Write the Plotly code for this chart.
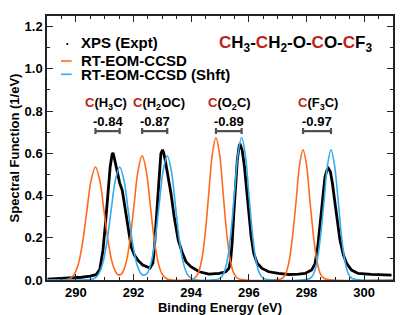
import plotly.graph_objects as go

# ---------------- data ----------------
xps_x = [289.02, 289.3, 289.6, 289.9, 290.2, 290.5, 290.7, 290.83, 290.94, 291.03, 291.11, 291.19,
         291.26, 291.29, 291.33, 291.38, 291.46, 291.52, 291.61, 291.69, 291.77, 291.84, 291.92,
         292.03, 292.15, 292.32, 292.49, 292.57, 292.67, 292.72, 292.78, 292.84, 292.90, 292.95,
         293.01, 293.05, 293.10, 293.18, 293.30, 293.41, 293.55, 293.70, 293.82, 293.99, 294.28,
         294.62, 294.97, 295.20, 295.31, 295.37, 295.42, 295.48, 295.54, 295.60, 295.66, 295.69,
         295.73, 295.77, 295.85, 295.92, 296.00, 296.08, 296.17, 296.29, 296.46, 296.69, 297.03,
         297.38, 297.72, 297.95, 298.18, 298.30, 298.39, 298.47, 298.56, 298.64, 298.71, 298.76,
         298.83, 298.90, 298.99, 299.08, 299.16, 299.28, 299.39, 299.56, 299.79, 300.25, 300.83,
         300.95]
xps_y = [0.004, 0.006, 0.008, 0.010, 0.013, 0.018, 0.025, 0.050, 0.140, 0.270, 0.425, 0.535,
         0.595, 0.602, 0.580, 0.550, 0.490, 0.460, 0.425, 0.360, 0.283, 0.220, 0.157,
         0.118, 0.094, 0.071, 0.060, 0.057, 0.079, 0.142, 0.268, 0.378, 0.504, 0.598,
         0.617, 0.600, 0.567, 0.504, 0.410, 0.300, 0.190, 0.126, 0.087, 0.063, 0.039,
         0.028, 0.031, 0.039, 0.055, 0.094, 0.173, 0.315, 0.457, 0.567, 0.630, 0.645,
         0.630, 0.614, 0.535, 0.425, 0.315, 0.205, 0.126, 0.079, 0.055, 0.039, 0.031,
         0.026, 0.028, 0.031, 0.047, 0.079, 0.157, 0.268, 0.394, 0.488, 0.520, 0.528,
         0.512, 0.457, 0.362, 0.268, 0.189, 0.118, 0.079, 0.047, 0.031, 0.027, 0.024,
         0.023]

eom_x = [289.0, 289.6, 289.78, 289.93, 290.08, 290.23, 290.38, 290.53, 290.68, 290.83, 290.98,
         291.13, 291.28, 291.43, 291.49, 291.60, 291.74, 291.88, 292.02, 292.16, 292.30, 292.44,
         292.58, 292.72, 292.86, 293.00, 293.14, 293.30, 293.8, 294.11, 294.235, 294.36, 294.485,
         294.61, 294.735, 294.86, 294.985, 295.11, 295.235, 295.36, 295.485, 295.61, 295.9, 296.8,
         297.145, 297.27, 297.39, 297.51, 297.64, 297.76, 297.88, 298.00, 298.12, 298.25, 298.37,
         298.49, 298.62, 298.9, 301.0]
eom_y = [0.0, 0.001, 0.006, 0.024, 0.072, 0.174, 0.325, 0.472, 0.535, 0.472, 0.325,
         0.174, 0.073, 0.028, 0.023, 0.031, 0.081, 0.191, 0.357, 0.519, 0.588, 0.519,
         0.357, 0.191, 0.080, 0.026, 0.007, 0.001, 0.0, 0.008, 0.030, 0.091, 0.219,
         0.409, 0.596, 0.675, 0.596, 0.409, 0.219, 0.091, 0.030, 0.008, 0.0, 0.0,
         0.007, 0.027, 0.084, 0.200, 0.374, 0.545, 0.617, 0.545, 0.374, 0.200, 0.084,
         0.027, 0.007, 0.0, 0.0]

shft_x = [289.0, 290.5, 290.62, 290.77, 290.92, 291.07, 291.22, 291.37, 291.52, 291.67, 291.82,
          291.97, 292.12, 292.27, 292.33, 292.47, 292.61, 292.75, 292.89, 293.03, 293.17, 293.31,
          293.45, 293.59, 293.73, 293.87, 294.01, 294.17, 294.7, 295.0, 295.125, 295.25, 295.375,
          295.5, 295.625, 295.75, 295.875, 296.0, 296.125, 296.25, 296.375, 296.5, 296.8, 297.8,
          298.115, 298.24, 298.36, 298.48, 298.61, 298.73, 298.85, 298.97, 299.1, 299.22, 299.34,
          299.46, 299.585, 299.9, 301.0]
shft_y = [0.0, 0.002, 0.006, 0.024, 0.072, 0.174, 0.325, 0.472, 0.535, 0.472, 0.325,
          0.174, 0.073, 0.028, 0.023, 0.031, 0.081, 0.191, 0.357, 0.519, 0.588, 0.519,
          0.357, 0.191, 0.080, 0.026, 0.007, 0.001, 0.0, 0.008, 0.030, 0.091, 0.219,
          0.409, 0.596, 0.675, 0.596, 0.409, 0.219, 0.091, 0.030, 0.008, 0.0, 0.0,
          0.007, 0.027, 0.084, 0.200, 0.374, 0.545, 0.617, 0.545, 0.374, 0.200, 0.084,
          0.027, 0.007, 0.0, 0.0]

site_labels = ["C(H<sub>3</sub>C)", "C(H<sub>2</sub>OC)", "C(O<sub>2</sub>C)", "C(F<sub>3</sub>C)"]
eom_centers = [290.68, 292.30, 294.86, 297.88]
shifts = [0.84, 0.87, 0.89, 0.97]
shift_texts = ["-0.84", "-0.87", "-0.89", "-0.97"]
bar_level = [0.705, 0.705, 0.705, 0.705]
label_level = 0.838
shift_level = 0.752

x_ticks = [290, 292, 294, 296, 298, 300]
y_ticks = [0.0, 0.2, 0.4, 0.6, 0.8, 1.0, 1.2]

# ---------------- styles ----------------
FONT = "Liberation Sans, Arial, Helvetica, sans-serif"
ORANGE = "#FF6A1C"
BLUE = "#35ABF0"
RED = "#C0231A"
BAR = "#505050"
LABEL_XSHIFT = [-2, 4, 1, 1]

fig = go.Figure()

fig.add_trace(go.Scatter(x=xps_x, y=xps_y, mode="lines", line=dict(color="black", width=2.8),
                         name="XPS (Expt)", showlegend=False))
fig.add_trace(go.Scatter(x=eom_x, y=eom_y, mode="lines", line=dict(color=ORANGE, width=1.6, shape="spline"),
                         name="RT-EOM-CCSD", showlegend=False))
fig.add_trace(go.Scatter(x=shft_x, y=shft_y, mode="lines", line=dict(color=BLUE, width=1.6, shape="spline"),
                         name="RT-EOM-CCSD (Shft)", showlegend=False))

mids = [c + s / 2 for c, s in zip(eom_centers, shifts)]
halves = [s / 2 for s in shifts]
fig.add_trace(go.Scatter(x=mids, y=bar_level, mode="markers", marker=dict(size=1, opacity=0),
                         error_x=dict(type="data", array=halves, color=BAR, thickness=2.2, width=3),
                         showlegend=False, hoverinfo="skip"))

ann = []
for m, lab, st, xs in zip(mids, site_labels, shift_texts, LABEL_XSHIFT):
    ann.append(dict(x=m, y=label_level, xref="x", yref="y", showarrow=False, xshift=xs,
                    text=f'<span style="color:{RED}">C</span>' + lab[1:],
                    font=dict(family=FONT, size=13, color="black", weight="bold"),
                    xanchor="center", yanchor="middle"))
    ann.append(dict(x=m, y=shift_level, xref="x", yref="y", showarrow=False, text=st,
                    font=dict(family=FONT, size=13, color="black", weight="bold"),
                    xanchor="center", yanchor="middle"))

formula = (f'<span style="color:{RED}">C</span>H<sub>3</sub>-'
           f'<span style="color:{RED}">C</span>H<sub>2</sub>-O-'
           f'<span style="color:{RED}">C</span>O-'
           f'<span style="color:{RED}">C</span>F<sub>3</sub>')

# manual legend / placement helpers (pixel -> paper)
W, H, L, T = 346.0, 264.0, 47.0, 16.0
def px(xp):
    return (xp - L) / W
def py(yp):
    return (280.0 - yp) / H

ann.append(dict(x=px(217), y=py(44), xref="paper", yref="paper", showarrow=False, text=formula,
                font=dict(family=FONT, size=17, color="black", weight="bold"),
                xanchor="left", yanchor="middle"))

leg_items = [("XPS (Expt)", 42.8), ("RT-EOM-CCSD", 60.2), ("RT-EOM-CCSD (Shft)", 74.2)]
for name, yc in leg_items:
    ann.append(dict(x=px(79), y=py(yc), xref="paper", yref="paper", showarrow=False, text=name,
                    font=dict(family=FONT, size=15, color="black", weight="bold"),
                    xanchor="left", yanchor="middle"))

shapes = [
    dict(type="circle", xref="paper", yref="paper", x0=px(66.2), x1=px(68.4), y0=py(45.1), y1=py(42.9),
         fillcolor="black", line=dict(width=0)),
    dict(type="line", xref="paper", yref="paper", x0=px(61), x1=px(71.7), y0=py(61), y1=py(61),
         line=dict(color=ORANGE, width=1.6)),
    dict(type="line", xref="paper", yref="paper", x0=px(61), x1=px(71.7), y0=py(74.3), y1=py(74.3),
         line=dict(color=BLUE, width=1.6)),
]

axis_common = dict(showline=True, linecolor="#222", linewidth=1.5, mirror="ticks",
                   ticks="inside", ticklen=6, tickwidth=1.2, tickcolor="#222",
                   showgrid=False, zeroline=False, automargin=False,
                   tickfont=dict(family=FONT, size=13, color="black", weight="bold"))

fig.update_layout(
    width=407, height=315,
    margin=dict(l=47, r=14, t=16, b=35),
    plot_bgcolor="white", paper_bgcolor="white",
    showlegend=False,
    annotations=ann, shapes=shapes,
    xaxis=dict(range=[289, 301], tickvals=x_ticks, ticktext=[str(v) for v in x_ticks],
               minor=dict(dtick=0.5, ticks="inside", ticklen=3, tickcolor="#222", tickwidth=1),
               title=dict(text="Binding Energy (eV)", standoff=0,
                          font=dict(family=FONT, size=13, color="black", weight="bold")),
               **axis_common),
    yaxis=dict(range=[0, 1.25], tickvals=y_ticks, ticktext=[f"{v:.1f}" for v in y_ticks],
               minor=dict(dtick=0.1, ticks="inside", ticklen=3, tickcolor="#222", tickwidth=1),
               title=dict(text="Spectral Function (1/eV)", standoff=2,
                          font=dict(family=FONT, size=13, color="black", weight="bold")),
               **axis_common),
)

fig.write_html("out.html", config={"displayModeBar": False},
               post_script="document.body.style.margin='0';")
